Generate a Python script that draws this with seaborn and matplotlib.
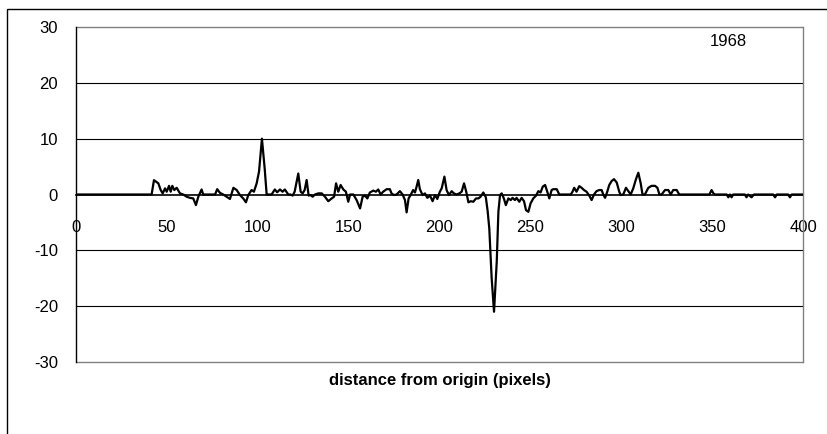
import numpy as np
import pandas as pd
import matplotlib
matplotlib.use("Agg")
import matplotlib.pyplot as plt
import seaborn as sns
from matplotlib.patches import Rectangle

# distance from origin (pixels) and profile value
dist = [0, 41.6, 42.9, 45.3, 46.6, 47.7, 49.0, 49.9, 51.2, 52.1, 53.0, 54.1, 55.4, 57.2, 59,
        60.9, 62.7, 64.5, 66, 67.3, 69.1, 70, 76.5, 77.7, 79.2, 81, 82.9, 84.7, 86.6, 88.4,
        90.2, 92, 93.5, 94.8, 96.6, 97.9, 99.4, 100.7, 102.3, 103.8, 104.9, 107.6, 109.4,
        110.7, 112.2, 113.7, 114.9, 116.8, 118, 119.2, 120.3, 122.3, 123.6, 124.7, 125.8,
        126.9, 128, 129.1, 130.2, 131.5, 133.3, 135.2, 137, 138.8, 140.7, 142, 143.1, 144.3,
        145.6, 147.1, 148.5, 149.8, 150.8, 152.6, 154.4, 156.3, 157.7, 159, 160.3, 161.7,
        163.6, 165, 166.3, 167.6, 169, 170.9, 172.7, 173.6, 174.9, 176.4, 178.2, 179.7, 181,
        181.9, 183, 184.1, 185.5, 186.5, 187.4, 188.3, 189.2, 190.7, 192, 193.3, 194.8, 196.2,
        197.5, 198.8, 200.2, 201.2, 202.7, 203.9, 205.2, 206.7, 207.9, 209.4, 210.9, 212.2,
        213.5, 214.7, 215.9, 217.2, 218.6, 220.1, 221.4, 222.6, 224.1, 225.5, 226.5, 227.4,
        228.7, 230, 231.5, 232.4, 233.3, 234.2, 235.4, 236.5, 237.9, 239.2, 240.2, 241.5,
        242.4, 243.9, 245.2, 246.5, 247.6, 248.9, 250.1, 251.6, 253.1, 254.4, 255.6, 256.8,
        258.1, 259.3, 260.4, 261.7, 262.6, 264.5, 265.9, 272.2, 273.2, 274.1, 275.4, 276.9,
        278.2, 279.5, 280.9, 282.4, 283.7, 285, 286.4, 287.9, 289.2, 290.1, 291.1, 292.3,
        293.4, 294.7, 296, 297.5, 298.9, 299.7, 301.1, 302.6, 303.9, 305.2, 306.6, 308.1,
        309.4, 310.7, 311.7, 313, 314.9, 316.7, 318.6, 319.9, 321, 322.2, 324.1, 325.9, 327.2,
        328.6, 330.5, 331.9, 348.5, 349.7, 350.7, 351.6, 358, 358.9, 359.8, 360.7, 361.6, 368,
        368.9, 369.8, 371.7, 373, 383.6, 384.6, 385.6, 391.8, 392.8, 393.8, 400]
value = [0, 0, 2.57, 2.0, 0.8, 0.2, 1.1, 0.5, 1.55, 0.5, 1.55, 0.8, 1.2, 0.2, 0,
         -0.4, -0.6, -0.7, -1.9, -0.4, 0.9, 0, 0, 0.95, 0.3, 0, -0.4, -0.8, 1.2, 0.8,
         -0.1, -0.7, -1.4, -0.1, 0.8, 0.5, 2.0, 4.1, 10.0, 4.7, 0, 0, 0.9,
         0.4, 0.9, 0.5, 0.9, 0, 0, -0.2, 0.5, 3.76, 0.5, 0.2, 0.8,
         2.6, -0.2, -0.1, -0.4, 0, 0.2, 0.2, -0.4, -1.2, -0.7, -0.4, 2.0, 0.5,
         1.7, 0.9, 0.5, -1.3, 0, 0, -1.0, -2.5, -0.4, -0.2, -0.7, 0.36,
         0.7, 0.5, 0.9, 0, 0.5, 0.95, 0.95, 0.2, -0.1, 0, 0.6, 0, -1.0,
         -3.2, -0.7, -0.1, 0.8, 0.36, 1.4, 2.6, 0.95, -0.1, 0.2, -0.6, -0.2, -1.2,
         -0.1, -0.8, 0.5, 1.1, 3.2, 0.8, -0.1, 0.6, 0.2, 0, 0.2, 0.5,
         2.0, 0.5, -1.4, -1.2, -1.3, -0.7, -0.7, -0.4, 0.36, -0.5, -3.0, -6.1,
         -15, -21, -12, -3.1, -0.1, 0.2, -0.7, -1.9, -0.7, -1.0, -0.6, -1.0,
         -0.6, -1.3, -0.6, -1.2, -2.8, -3.1, -1.6, -0.7, -0.2, 0.6, 0.36, 1.4,
         1.7, 0.5, -0.7, 0.8, 0.95, 0.95, 0, 0, 0.5, 1.2, 0.5, 1.5,
         1.2, 0.8, 0.5, -0.2, -1.0, 0, 0.6, 0.8, 0.8, 0, -0.6, 0.5,
         1.7, 2.4, 2.75, 2.15, 0.5, -0.1, 0, 1.2, 0.6, 0, 1.1, 2.75,
         3.9, 2.0, 0, 0, 1.2, 1.55, 1.55, 1.2, 0, 0, 0.8, 0.8, 0,
         0.8, 0.8, 0, 0, 0.8, 0.2, 0, 0, -0.5, 0, -0.5, 0, 0,
         -0.5, 0, -0.5, 0, 0, -0.5, 0, 0, -0.5, 0, 0]

x_ticks = [0, 50, 100, 150, 200, 250, 300, 350, 400]
y_ticks = [-30, -20, -10, 0, 10, 20, 30]
year_label = "1968"

df = pd.DataFrame({"dist": dist, "value": value})

sns.set_style("white")
plt.rcParams["font.family"] = ["Liberation Sans", "DejaVu Sans"]
plt.rcParams["text.color"] = "black"
plt.rcParams["xtick.color"] = "black"
plt.rcParams["ytick.color"] = "black"

fig = plt.figure(figsize=(8.27, 4.34), dpi=100)
ax = fig.add_axes([76 / 827, 1 - 362 / 434, (803 - 76) / 827, (362 - 27) / 434])

# outer chart frame (only top and left visible)
fig.patches.append(Rectangle((7 / 827, -0.2), 1.2, 1.2 - 9 / 434,
                             transform=fig.transFigure, fill=False,
                             edgecolor="black", lw=1.0, zorder=0))

for yv in y_ticks:
    if yv in (-30, 30):
        ax.axhline(yv, color="#808080", lw=1.0, zorder=1, clip_on=False)
    elif yv != 0:
        ax.axhline(yv, color="black", lw=0.8, zorder=1)

sns.lineplot(data=df, x="dist", y="value", color="black", lw=1.6, ax=ax, zorder=3)

# x axis runs through zero
ax.spines["bottom"].set_position(("data", 0))
ax.spines["bottom"].set_color("black")
ax.spines["bottom"].set_linewidth(1.2)
ax.spines["bottom"].set_zorder(2)
ax.spines["left"].set_color("black")
ax.spines["left"].set_linewidth(1.0)
ax.spines["top"].set_visible(False)
ax.spines["right"].set_color("#808080")
ax.spines["right"].set_linewidth(1.0)

ax.set_xlim(0, 400)
ax.set_ylim(-30, 30)
ax.set_xticks(x_ticks)
ax.set_yticks(y_ticks)
ax.set_xticklabels([str(t) for t in x_ticks], fontsize=12, color="black")
ax.set_yticklabels([str(t) for t in y_ticks], fontsize=12, color="black")

ax.tick_params(axis="x", direction="out", length=6, width=1, color="black", pad=12)
ax.tick_params(axis="y", direction="out", length=7, width=1, color="black", pad=6)
ax.set_xlabel("")
ax.set_ylabel("")

ax.text(359, 27.4, year_label, fontsize=12, ha="center", va="center", color="black")
fig.text(439.5 / 827, 1 - 381 / 434, "distance from origin (pixels)",
         fontsize=12, fontweight="bold", ha="center", va="center", color="black")

fig.savefig("out.png", dpi=100)
